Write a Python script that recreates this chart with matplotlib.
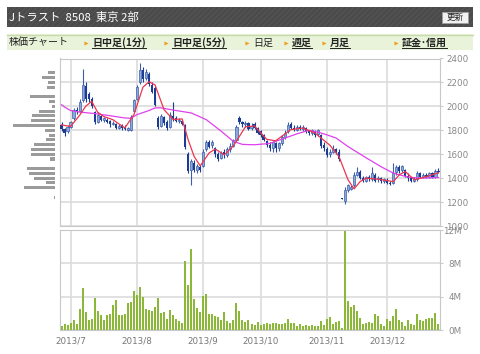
import numpy as np
import pandas as pd
import matplotlib
matplotlib.use("Agg")
import matplotlib.pyplot as plt
from matplotlib.patches import Rectangle

plt.rcParams['font.family'] = ['Noto Sans CJK JP', 'DejaVu Sans']
plt.rcParams['hatch.linewidth'] = 0.5

# trading days 2013/6/26 - 2013/12/26 (TSE holidays removed)
jp_holidays = ['2013-07-15', '2013-09-16', '2013-09-23', '2013-10-14', '2013-11-04', '2013-12-23']
days = pd.bdate_range('2013-06-26', '2013-12-26', freq='C', holidays=jp_holidays)

# daily prices, yen
opens = [1840, 1810, 1790, 1830, 1900, 1970, 1960, 2050, 2170, 2100,
         2060, 1950, 1870, 1920, 1890, 1890, 1880, 1850, 1850, 1820,
         1840, 1820, 1800, 1800, 1960, 2060, 2200, 2300, 2240, 2270,
         2180, 2150, 1900, 1840, 1910, 1870, 1830, 1920, 1900, 1880,
         1880, 1840, 1600, 1470, 1530, 1470, 1490, 1500, 1640, 1700,
         1680, 1650, 1600, 1570, 1620, 1590, 1640, 1670, 1720, 1900,
         1870, 1850, 1860, 1820, 1850, 1820, 1790, 1760, 1710, 1680,
         1650, 1690, 1650, 1690, 1740, 1790, 1850, 1820, 1800, 1830,
         1810, 1820, 1790, 1780, 1790, 1770, 1760, 1680, 1640, 1600,
         1620, 1640, 1620, 1232, 1210, 1300, 1310, 1340, 1430, 1450,
         1400, 1380, 1410, 1390, 1430, 1390, 1400, 1380, 1380, 1360,
         1360, 1450, 1490, 1470, 1470, 1420, 1400, 1380, 1390, 1440,
         1410, 1430, 1410, 1440, 1410, 1460]
closes = [1810, 1780, 1830, 1870, 1970, 1960, 2040, 2180, 2060, 2060,
          2000, 1870, 1930, 1890, 1900, 1870, 1850, 1860, 1820, 1840,
          1820, 1810, 1820, 1910, 2050, 2160, 2300, 2230, 2290, 2190,
          2120, 2010, 1830, 1920, 1860, 1820, 1930, 1900, 1880, 1890,
          1850, 1660, 1460, 1540, 1470, 1500, 1470, 1620, 1700, 1660,
          1700, 1600, 1560, 1610, 1590, 1640, 1670, 1720, 1830, 1870,
          1850, 1860, 1810, 1840, 1820, 1780, 1760, 1720, 1680, 1650,
          1700, 1650, 1690, 1740, 1780, 1840, 1820, 1800, 1830, 1810,
          1830, 1790, 1780, 1800, 1760, 1800, 1670, 1650, 1590, 1620,
          1640, 1620, 1560, 1228, 1300, 1340, 1330, 1430, 1450, 1400,
          1380, 1410, 1390, 1440, 1380, 1400, 1380, 1390, 1360, 1350,
          1440, 1490, 1460, 1500, 1420, 1400, 1380, 1390, 1440, 1410,
          1430, 1410, 1440, 1410, 1460, 1450]
highs = [1870, 1820, 1840, 1880, 1990, 1995, 2060, 2316, 2200, 2120,
         2080, 1960, 1950, 1930, 1910, 1900, 1890, 1880, 1860, 1850,
         1850, 1840, 1830, 1930, 2060, 2180, 2366, 2330, 2310, 2290,
         2200, 2170, 1920, 1940, 1920, 1890, 1950, 2040, 1920, 1900,
         1890, 1850, 1620, 1560, 1550, 1520, 1510, 1640, 1720, 1720,
         1720, 1660, 1620, 1630, 1640, 1660, 1690, 1730, 1840, 1920,
         1880, 1880, 1870, 1860, 1870, 1830, 1800, 1770, 1720, 1700,
         1710, 1700, 1700, 1760, 1800, 1870, 1870, 1840, 1840, 1845,
         1840, 1830, 1800, 1810, 1800, 1810, 1770, 1700, 1660, 1640,
         1680, 1650, 1640, 1232, 1325, 1350, 1340, 1450, 1490, 1470,
         1420, 1420, 1430, 1490, 1440, 1420, 1410, 1400, 1400, 1380,
         1530, 1510, 1510, 1510, 1480, 1440, 1410, 1410, 1460, 1450,
         1440, 1440, 1450, 1450, 1480, 1485]
lows = [1790, 1750, 1780, 1820, 1890, 1940, 1950, 2040, 2040, 2040,
        1990, 1850, 1860, 1880, 1870, 1860, 1830, 1840, 1810, 1810,
        1800, 1800, 1790, 1790, 1950, 2050, 2190, 2200, 2220, 2170,
        2110, 2000, 1810, 1830, 1840, 1800, 1820, 1880, 1870, 1860,
        1840, 1640, 1440, 1345, 1450, 1440, 1450, 1490, 1630, 1650,
        1650, 1580, 1540, 1560, 1570, 1580, 1620, 1660, 1710, 1850,
        1830, 1830, 1800, 1800, 1810, 1770, 1740, 1710, 1660, 1630,
        1620, 1620, 1630, 1680, 1730, 1780, 1810, 1790, 1790, 1800,
        1795, 1780, 1760, 1760, 1740, 1750, 1650, 1630, 1580, 1580,
        1610, 1600, 1540, 1228, 1180, 1280, 1300, 1330, 1420, 1390,
        1370, 1370, 1380, 1380, 1370, 1370, 1360, 1360, 1350, 1340,
        1350, 1430, 1440, 1450, 1410, 1380, 1370, 1370, 1380, 1400,
        1400, 1400, 1400, 1400, 1405, 1440]
# volume, million shares
volume = [0.52, 0.72, 0.64, 0.84, 1.16, 0.76, 2.56, 5.08, 2.12, 1.16,
          1.32, 3.88, 2.28, 1.80, 1.16, 1.80, 1.88, 3.00, 3.60, 1.76,
          1.76, 1.96, 3.20, 3.36, 4.64, 4.20, 5.20, 3.96, 2.52, 2.44,
          2.28, 2.80, 3.88, 2.04, 2.16, 1.32, 2.36, 1.76, 1.36, 1.12,
          0.84, 8.28, 5.44, 9.68, 3.72, 2.64, 2.12, 4.04, 4.36, 1.96,
          1.88, 1.68, 1.56, 1.24, 2.12, 1.08, 0.80, 1.24, 3.20, 2.24,
          1.16, 0.92, 1.24, 0.68, 0.60, 0.96, 0.60, 0.76, 0.80, 0.76,
          0.88, 0.88, 0.68, 0.68, 0.80, 1.28, 0.88, 0.88, 0.48, 0.68,
          0.52, 0.64, 0.48, 0.60, 0.52, 0.48, 1.04, 0.60, 1.28, 1.56,
          0.72, 0.96, 1.04, 0.28, 12.0, 3.52, 2.80, 3.04, 2.24, 1.44,
          0.72, 0.80, 0.96, 0.88, 1.96, 1.68, 0.68, 0.52, 1.32, 1.08,
          1.68, 2.48, 1.16, 0.92, 0.48, 1.20, 0.76, 0.64, 1.92, 1.20,
          1.08, 1.28, 1.44, 1.44, 2.00, 0.68]

# moving averages (day index, yen)
ma_short_day = [0, 3, 6, 8, 10, 12, 14, 17, 21, 24, 27, 29, 31, 34, 37, 40, 42, 44, 46,
                49, 51, 54, 57, 61, 64, 68, 71, 76, 80, 84, 89, 92, 95, 97, 99, 101,
                106, 110, 112, 114, 117, 121, 125]
ma_short = [1845, 1832, 1925, 2000, 2042, 1950, 1915, 1889, 1820, 1930, 2160, 2205, 2180,
            1972, 1890, 1895, 1720, 1580, 1503, 1612, 1643, 1595, 1670, 1830, 1836, 1725,
            1712, 1805, 1819, 1778, 1675, 1581, 1386, 1310, 1371, 1400, 1388, 1371, 1428,
            1455, 1386, 1413, 1445]
ma_long_day = [0, 1, 3, 6, 11, 16, 21, 23, 25, 29, 31, 33, 35, 38, 43, 48, 53, 57, 60, 64,
               69, 73, 78, 82, 85, 88, 91, 95, 101, 106, 110, 115, 119, 125]
ma_long = [2014, 1995, 1965, 1952, 1940, 1922, 1903, 1900, 1931, 1965, 1987, 1988, 1978,
           1965, 1945, 1889, 1791, 1707, 1682, 1679, 1690, 1725, 1770, 1799, 1785, 1762,
           1736, 1664, 1570, 1495, 1442, 1408, 1400, 1405]

# price-by-volume profile (bin centre yen, volume)
profile_price = [2280, 2240, 2200, 2160, 2120, 2080, 2040, 2000, 1960, 1920, 1880, 1840, 1800,
                 1760, 1720, 1680, 1640, 1600, 1560, 1520, 1480, 1440, 1400, 1360, 1320, 1280, 1240]
profile_vol = [3.3, 6.3, 3.6, 4.1, 0, 12.3, 2.8, 1.5, 7.8, 11.3, 12.1, 20.8, 4.8,
               3.0, 4.6, 10.6, 12.0, 12.0, 2.5, 0, 14.1, 13.0, 10.6, 4.5, 15.3, 0, 0.6]

price_ticks = [1000, 1200, 1400, 1600, 1800, 2000, 2200, 2400]
vol_ticks = [0, 4, 8, 12]
vol_tick_labels = ['0M', '4M', '8M', '12M']

x = np.arange(len(days))
o = np.array(opens); c = np.array(closes)
hi = np.array(highs); lo = np.array(lows)
up = c >= o
month_idx = [i for i in range(1, len(days)) if days[i].month != days[i - 1].month]
month_labels = [f"{days[i].year}/{days[i].month}" for i in month_idx]

W, H = 480, 354
fig = plt.figure(figsize=(W / 100, H / 100), dpi=100)


def box(x0, y0, x1, y1):
    return [x0 / W, 1 - y1 / H, (x1 - x0) / W, (y1 - y0) / H]


ax = fig.add_axes(box(60, 58.5, 440, 226))
axv = fig.add_axes(box(60, 230, 440, 330))
axp = fig.add_axes(box(0, 58.5, 55, 226))

gridc = '#dcdcdc'
for a in (ax, axv):
    for s in a.spines.values():
        s.set_color('#c8c8c8')
        s.set_linewidth(0.8)
    a.set_xlim(-0.5, len(days) - 0.5)
    a.set_xticks(month_idx)
    a.grid(True, color=gridc, lw=1.2)
    a.set_axisbelow(True)
    a.yaxis.tick_right()

# candles
up_face, up_edge, down_col = '#8ea8d8', '#3d5eab', '#1c3c94'
ax.vlines(x, lo, hi, colors=np.where(up, up_edge, down_col), lw=0.8, zorder=3)
body = np.maximum(np.abs(c - o), 5)
ax.bar(x[up], body[up], bottom=o[up], width=0.72, color=up_face,
       edgecolor=up_edge, lw=0.5, zorder=4)
ax.bar(x[~up], body[~up], bottom=c[~up], width=0.72, color=down_col, lw=0, zorder=4)
ax.plot(ma_long_day, ma_long, color='#e040ee', lw=0.9, zorder=5)
ax.plot(ma_short_day, ma_short, color='#ee3550', lw=0.9, zorder=6)

ax.set_ylim(1000, 2400)
ax.set_yticks(price_ticks)
ax.tick_params(axis='y', length=2.2, color='#cccccc', labelsize=6.3,
               labelcolor='#888888', pad=2.5)
ax.tick_params(axis='x', length=0, labelbottom=False)

# volume
axv.bar(x, volume, width=0.66, color='#8cb83a', lw=0)
axv.set_ylim(0, 12)
axv.set_yticks(vol_ticks, vol_tick_labels)
for lab in axv.get_yticklabels():
    lab.set_ha('right')
axv.tick_params(axis='y', length=2.2, color='#cccccc', labelsize=6.3,
                labelcolor='#888888', pad=13.5)
axv.set_xticks(month_idx, month_labels)
axv.tick_params(axis='x', length=0, pad=5, labelsize=6.3, labelcolor='#777777')
for lab in axv.get_xticklabels() + axv.get_yticklabels() + ax.get_yticklabels():
    lab.set_family('DejaVu Sans')

# price-by-volume on the left
axp.barh(profile_price, profile_vol, height=26, color='#9b9b9b')
axp.set_ylim(1000, 2400)
axp.set_xlim(27.5, 0)
axp.axis('off')

# header and tab bar
hdr = fig.add_axes([0, 0, 1, 1])
hdr.set_xlim(0, W)
hdr.set_ylim(H, 0)
hdr.axis('off')
hdr.add_patch(Rectangle((7, 7), 466, 20, facecolor='#4b4b4b', edgecolor='#5a5a5a',
                        hatch='//////', lw=0))
hdr.text(9, 17, 'Jトラスト  8508  東京 2部', color='white', fontsize=8.2, va='center')
hdr.add_patch(Rectangle((442, 12), 26, 11, facecolor='#f2f2f2', edgecolor='#a0a0a0', lw=0.6))
hdr.text(455, 17.5, '更新', fontsize=6.2, ha='center', va='center', color='#222222')

hdr.add_patch(Rectangle((7, 34), 466, 16, facecolor='#e8f3da', lw=0))
hdr.plot([7, 473], [34.5, 34.5], color='#c6dba9', lw=1)
hdr.text(9, 42.5, '株価チャート', fontsize=7.2, va='center', color='#222222')

tabs = [('日中足(1分)', 92, True), ('日中足(5分)', 172, True), ('日足', 253, False),
        ('週足', 292, True), ('月足', 330, True), ('証金･信用', 402, True)]
linked = []
for label, tx, is_link in tabs:
    hdr.plot(tx - 6.5, 42.5, marker='>', ms=3, color='#f0a020', mec='none')
    t = hdr.text(tx, 42.5, label, fontsize=7.2, va='center', color='#222222',
                 fontweight='bold' if is_link else 'normal')
    if is_link:
        linked.append(t)

fig.canvas.draw()
r = fig.canvas.get_renderer()
inv = hdr.transData.inverted()
for t in linked:
    bb = t.get_window_extent(r)
    (x0, _), (x1, _) = inv.transform([[bb.x0, bb.y0], [bb.x1, bb.y1]])
    hdr.plot([x0, x1], [47.6, 47.6], color='#222222', lw=0.7)

fig.savefig('out.png', dpi=100)
